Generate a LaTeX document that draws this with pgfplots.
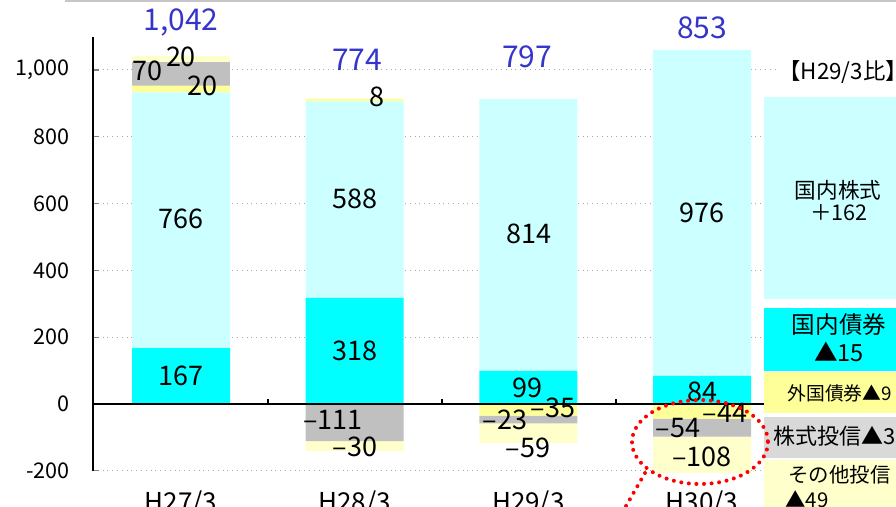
\documentclass[border=0pt]{standalone}
\usepackage{fontspec}
\setmainfont{Noto Sans CJK JP}
\usepackage{pgfplots}
\pgfplotsset{compat=1.18}
\usepackage{pgfplotstable}
\definecolor{cDB}{HTML}{00FFFF}
\definecolor{cDS}{HTML}{CCFFFF}
\definecolor{cFB}{HTML}{FFFF99}
\definecolor{cSF}{HTML}{C0C0C0}
\definecolor{cOF}{HTML}{FFFFCC}
\definecolor{cPG}{HTML}{D9D9D9}
\definecolor{cTot}{HTML}{3535CC}
\definecolor{cRed}{HTML}{FF0000}

\pgfplotstableread{
x dbond dstock fbond sfund ofund
0 167 766 20 70 20
1 318 588 8 0 0
2 99 814 0 0 0
3 84 976 0 0 0
}\postab
\pgfplotstableread{
x fbond sfund ofund
0 0 0 0
1 0 -111 -30
2 -35 -23 -59
3 -44 -54 -108
}\negtab

\pgfplotsset{base/.style={x=86.85pt, y=0.167pt, xmin=-0.507, xmax=4.12,
  ymin=-200, ymax=1100, enlargelimits=false, at={(90.5pt,-202pt)}, anchor=origin,
  clip=false, ybar stacked, bar width=49pt}}

\begin{document}
\begin{tikzpicture}
\path[use as bounding box] (0,0) rectangle (448pt,-253.5pt);
\clip (0,0) rectangle (448pt,-253.5pt);
\begin{axis}[base,
  axis x line*=bottom, axis y line*=left,
  x axis line style={draw=none},
  y axis line style={line width=0.75pt},
  xtick={0,1,2,3}, xticklabels={H27/3,H28/3,H29/3,H30/3},
  xtick style={draw=none},
  xticklabel style={font=\fontsize{13}{14}\selectfont, yshift=-6.5pt},
  ytick={-200,0,...,1000}, ytick align=inside, major tick length=3pt,
  ytick style={line width=0.6pt},
  /pgf/number format/assume math mode=true,
  /pgf/number format/1000 sep={,},
  yticklabel style={font=\fontsize{10.8}{11}\selectfont, xshift=-8pt},
  ymajorgrids, major grid style={gray!70, dotted, line width=0.5pt},
]
\addplot[fill=cDB, draw=none] table[x=x,y=dbond]{\postab};
\addplot[fill=cDS, draw=none] table[x=x,y=dstock]{\postab};
\addplot[fill=cFB, draw=none] table[x=x,y=fbond]{\postab};
\addplot[fill=cSF, draw=none] table[x=x,y=sfund]{\postab};
\addplot[fill=cOF, draw=none] table[x=x,y=ofund]{\postab};
\end{axis}
\begin{axis}[base, hide axis]
\addplot[fill=cFB, draw=none] table[x=x,y=fbond]{\negtab};
\addplot[fill=cSF, draw=none] table[x=x,y=sfund]{\negtab};
\addplot[fill=cOF, draw=none] table[x=x,y=ofund]{\negtab};
\end{axis}
\begin{scope}[x=0.5pt,y=-0.5pt]
\draw[black, line width=1pt] (93,404) -- (900,404);
\draw[black, line width=0.6pt] (268,404) -- (268,399);
\draw[black, line width=0.6pt] (442,404) -- (442,399);
\draw[black, line width=0.6pt] (616,404) -- (616,399);
\begin{scope}[every node/.style={font=\fontsize{13.5}{14}\selectfont, inner sep=0pt}]
\node at (181,376) {167};
\node at (181,219) {766};
\node at (202,86) {20};
\node at (147,71) {70};
\node at (181,57) {20};
\node at (355,351) {318};
\node at (355,199) {588};
\node at (377,97) {8};
\node at (333,420) {–111};
\node at (355,447) {–30};
\node at (527,388) {99};
\node at (529,234) {814};
\node at (553,408) {–35};
\node at (505,420) {–23};
\node at (528,448) {–59};
\node at (702,392) {84};
\node at (702,213) {976};
\node at (725,413) {–44};
\node at (678,428) {–54};
\node at (702,457) {–108};
\end{scope}
\begin{scope}[every node/.style={font=\fontsize{15}{16}\selectfont, text=cTot, inner sep=0pt}]
\node at (181,22) {1,042};
\node at (357,60) {774};
\node at (527,57) {797};
\node at (702,28) {853};
\end{scope}
\draw[gray!45, line width=1pt] (65,1) -- (900,1);
\fill[cDS] (764,97) rectangle (900,299);
\fill[cDB] (764,308) rectangle (900,371);
\fill[cFB] (764,372) rectangle (900,413);
\fill[cPG] (764,417) rectangle (900,458);
\fill[cOF] (764,460) rectangle (900,515);
\node[fill=white, anchor=west, inner sep=1pt, font=\fontsize{11.2}{12}\selectfont] at (776,72) {【H29/3比】};
\node[font=\fontsize{10.8}{11}\selectfont, inner sep=0pt] at (838,190) {国内株式};
\node[font=\fontsize{10.8}{11}\selectfont, inner sep=0pt] at (839,213) {＋162};
\node[font=\fontsize{11.8}{12}\selectfont, inner sep=0pt] at (839,325) {国内債券};
\node[font=\fontsize{11.8}{12}\selectfont, inner sep=0pt] at (839,352) {▲15};
\node[font=\fontsize{9.4}{10}\selectfont, inner sep=0pt, anchor=west] at (787,393) {外国債券▲9};
\node[font=\fontsize{11}{12}\selectfont, inner sep=0pt, anchor=west] at (773,436) {株式投信▲3};
\node[font=\fontsize{10.2}{11}\selectfont, inner sep=0pt, anchor=west] at (788,475) {その他投信};
\node[font=\fontsize{10.2}{11}\selectfont, inner sep=0pt, anchor=west] at (785,499) {▲49};
\draw[cRed, line width=2pt, line cap=round, dash pattern=on 0pt off 3.8pt] (700,442) ellipse [x radius=68, y radius=42];
\draw[cRed, line width=2pt, line cap=round, dash pattern=on 0pt off 3.8pt] (645,473) -- (618,520);
\end{scope}
\end{tikzpicture}
\end{document}
